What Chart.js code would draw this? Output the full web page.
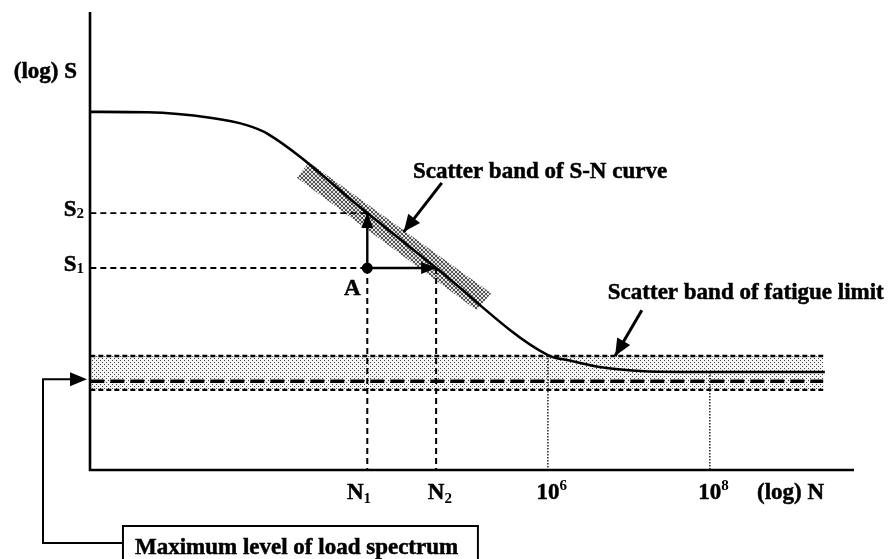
<!DOCTYPE html>
<html>
<head>
<meta charset="utf-8">
<script src="https://cdn.jsdelivr.net/npm/chart.js@4/dist/chart.umd.min.js"></script>
<style>
  html, body { margin: 0; padding: 0; background: #fff; }
  canvas { display: block; }
</style>
</head>
<body>
<canvas id="sn" width="891" height="559"></canvas>
<script>
// x = log N (decades), y = relative log S (0..100)
const curveN = [0.35, 1.05, 1.83, 2.28, 2.54, 3.77, 4.62, 6.0, 6.27, 6.64, 7.14, 7.63, 9.42];
const curveS = [78.2, 78.1, 76.9, 75.3, 73.4, 56.1, 44.1, 25.1, 23.9, 22.5, 21.6, 21.4, 21.4];
const snBandN = [3.05, 5.30, 5.12, 2.90, 3.05];
const snBandS = [67.2, 38.6, 34.9, 63.8, 67.2];
const limitBandN = [0.35, 9.40];
const limitBandS = [24.9, 17.5];   // upper, lower
const loadLevelS = 19.4;
const levelS = [44.1, 56.1];       // S1, S2
const lifeN = [3.77, 4.62];        // N1, N2
const decadeN = [6, 8];
const sTickLabels = ['S_1', 'S_2'];
const nTickLabels = ['N_1', 'N_2', '10^6', '10^8'];

const SERIF = '"Liberation Serif", "Times New Roman", serif';
Chart.defaults.font.family = SERIF;

const xy = (xs, ys) => xs.map((x, i) => ({ x, y: ys[i] }));
const seg = (x0, y0, x1, y1) => [{ x: x0, y: y0 }, { x: x1, y: y1 }];

// linear lookup on the curve, used for the top of the decade guides
const curveAt = (n) => {
    for (let i = 1; i < curveN.length; i++) {
        if (n <= curveN[i]) {
            const t = (n - curveN[i - 1]) / (curveN[i] - curveN[i - 1]);
            return curveS[i - 1] + t * (curveS[i] - curveS[i - 1]);
        }
    }
    return curveS[curveS.length - 1];
};

function makePattern(size, bg, fg, cells) {
    const c = document.createElement('canvas');
    c.width = c.height = size;
    const g = c.getContext('2d');
    g.fillStyle = bg;
    g.fillRect(0, 0, size, size);
    g.fillStyle = fg;
    cells.forEach(([i, j]) => g.fillRect(i, j, 1, 1));
    return g.createPattern(c, 'repeat');
}
const hatch = makePattern(4, '#e4e4e4', '#555',
    [[0, 0], [1, 1], [2, 2], [3, 3], [3, 0], [2, 1], [1, 2], [0, 3]]);
const dots = makePattern(4, '#f4f4f4', '#444', [[0, 0], [2, 2]]);

const line = (data, extra) => Object.assign({
    data, showLine: true, pointRadius: 0, borderColor: '#000',
    backgroundColor: '#000', borderWidth: 2, fill: false
}, extra);

const datasets = [
    line(xy(curveN, curveS), { borderWidth: 2.6, cubicInterpolationMode: 'monotone' }),
    line([{ x: lifeN[0], y: levelS[0] }], { showLine: false, pointRadius: 4.5 }),
    line(seg(lifeN[0], levelS[0], lifeN[0], levelS[1]), { borderWidth: 2.4, arrowHead: true }),
    line(seg(lifeN[0], levelS[0], lifeN[1], levelS[0]), { borderWidth: 2.4, arrowHead: true }),
    line(seg(limitBandN[0], levelS[1], lifeN[0], levelS[1]), { borderWidth: 1.8, borderDash: [6, 4] }),
    line(seg(limitBandN[0], levelS[0], lifeN[0], levelS[0]), { borderWidth: 1.8, borderDash: [6, 4] }),
    line(seg(lifeN[0], levelS[0], lifeN[0], 0), { borderWidth: 2, borderDash: [6, 4] }),
    line(seg(lifeN[1], levelS[0], lifeN[1], 0), { borderWidth: 2, borderDash: [6, 4] }),
    line(seg(decadeN[0], curveAt(decadeN[0]), decadeN[0], 0), { borderWidth: 1.3, borderDash: [1.5, 1.5] }),
    line(seg(decadeN[1], curveAt(decadeN[1]), decadeN[1], 0), { borderWidth: 1.3, borderDash: [1.5, 1.5] }),
    line(seg(limitBandN[0], loadLevelS, limitBandN[1], loadLevelS), { borderWidth: 3.5, borderDash: [14, 6] }),
    line(xy(limitBandN, [limitBandS[0], limitBandS[0]]), { borderWidth: 2.4, borderDash: [5, 3] }),
    line(xy(limitBandN, [limitBandS[1], limitBandS[1]]), { borderWidth: 2.4, borderDash: [5, 3], fill: '-1', backgroundColor: dots }),
    line(xy(snBandN, snBandS), { borderWidth: 0, borderColor: 'rgba(0,0,0,0)', fill: 'shape', backgroundColor: hatch })
];

function arrowHead(ctx, x0, y0, x1, y1, len, half) {
    const a = Math.atan2(y1 - y0, x1 - x0);
    const c = Math.cos(a), s = Math.sin(a);
    ctx.beginPath();
    ctx.moveTo(x1, y1);
    ctx.lineTo(x1 - len * c + half * s, y1 - len * s - half * c);
    ctx.lineTo(x1 - len * c - half * s, y1 - len * s + half * c);
    ctx.closePath();
    ctx.fill();
}

// "N_1" -> base N, subscript 1 ; "10^6" -> base 10, superscript 6
function drawLabel(ctx, text, x, y, align) {
    const m = text.match(/^([^_^]+)([_^])?(.*)$/);
    const base = m[1], kind = m[2], small = m[3];
    ctx.font = 'bold 23px ' + SERIF;
    const wb = ctx.measureText(base).width;
    ctx.font = 'bold 15px ' + SERIF;
    const ws = small ? ctx.measureText(small).width : 0;
    let left = x;
    if (align === 'right') left = x - wb - ws;
    if (align === 'base') left = x - wb / 2;
    ctx.textAlign = 'left';
    ctx.font = 'bold 23px ' + SERIF;
    ctx.fillText(base, left, y);
    ctx.strokeText(base, left, y);
    if (small) {
        ctx.font = 'bold 15px ' + SERIF;
        ctx.fillText(small, left + wb, kind === '_' ? y + 4 : y - 9);
    }
}

const annotate = {
    id: 'annotate',
    afterDatasetsDraw(chart) {
        const { ctx, chartArea: a, scales } = chart;
        const X = v => scales.x.getPixelForValue(v);
        const Y = v => scales.y.getPixelForValue(v);
        ctx.save();
        ctx.fillStyle = '#000';
        ctx.strokeStyle = '#000';

        // axes
        ctx.lineWidth = 2.6;
        ctx.beginPath();
        ctx.moveTo(a.left, a.top);
        ctx.lineTo(a.left, a.bottom);
        ctx.lineTo(a.right, a.bottom);
        ctx.stroke();

        // arrowheads on flagged datasets
        chart.data.datasets.forEach((ds, i) => {
            if (!ds.arrowHead) return;
            const pts = chart.getDatasetMeta(i).data;
            const p = pts[pts.length - 1], q = pts[pts.length - 2];
            arrowHead(ctx, q.x, q.y, p.x, p.y, 15, 6);
        });

        // callout arrows
        ctx.lineWidth = 3;
        [[4.69, 62.7, 4.22, 52.0], [7.16, 34.9, 6.83, 24.9]].forEach(([x0, y0, x1, y1]) => {
            ctx.beginPath();
            ctx.moveTo(X(x0), Y(y0));
            ctx.lineTo(X(x1), Y(y1));
            ctx.stroke();
            arrowHead(ctx, X(x0), Y(y0), X(x1), Y(y1), 17, 7.5);
        });

        // texts, thin stroke to get the heavier print look
        ctx.lineWidth = 0.5;
        const text = (s, x, y) => { ctx.fillText(s, x, y); ctx.strokeText(s, x, y); };
        ctx.textBaseline = 'alphabetic';
        ctx.font = 'bold 23px ' + SERIF;
        ctx.textAlign = 'right';
        text('(log) S', a.left - 13, 78);
        ctx.textAlign = 'left';
        text('(log) N', 757, a.bottom + 29);
        text('Scatter band of S-N curve', X(4.333), Y(63.8));
        text('Scatter band of fatigue limit', X(6.74), Y(37.3));
        ctx.textAlign = 'center';
        text('A', X(lifeN[0]) - 15, Y(levelS[0]) + 27);

        ctx.textBaseline = 'middle';
        sTickLabels.forEach((t, i) => drawLabel(ctx, t, a.left - 6, Y(levelS[i]) - 3, 'right'));
        ctx.textBaseline = 'alphabetic';
        const nudge = [-12, 0, 0, 0];
        [...lifeN, ...decadeN].forEach((n, i) =>
            drawLabel(ctx, nTickLabels[i], X(n) + nudge[i], a.bottom + 29, 'base'));

        // load spectrum box and leader
        const bx = X(0.753), by = a.bottom + 56;
        ctx.lineWidth = 2;
        ctx.strokeRect(bx, by, X(5.136) - bx, 60);
        ctx.textAlign = 'left';
        ctx.font = 'bold 23px ' + SERIF;
        ctx.lineWidth = 0.5;
        text('Maximum level of load spectrum', bx + 12, by + 28);
        ctx.lineWidth = 2;
        const lx = a.left - 47, ly = Y(loadLevelS) - 2;
        ctx.beginPath();
        ctx.moveTo(bx, by + 17);
        ctx.lineTo(lx, by + 17);
        ctx.lineTo(lx, ly);
        ctx.lineTo(a.left - 16, ly);
        ctx.stroke();
        arrowHead(ctx, lx, ly, a.left - 3, ly, 17, 7);
        ctx.restore();
    }
};

new Chart(document.getElementById('sn'), {
    type: 'scatter',
    data: { datasets },
    options: {
        responsive: false,
        animation: false,
        devicePixelRatio: 1,
        layout: { padding: { left: 90, top: 12, right: 37, bottom: 89 } },
        scales: {
            x: { type: 'linear', min: 0.346, max: 9.78, display: false },
            y: { type: 'linear', min: 0, max: 100, display: false }
        },
        plugins: { legend: { display: false }, tooltip: { enabled: false } }
    },
    plugins: [annotate]
});
</script>
</body>
</html>
